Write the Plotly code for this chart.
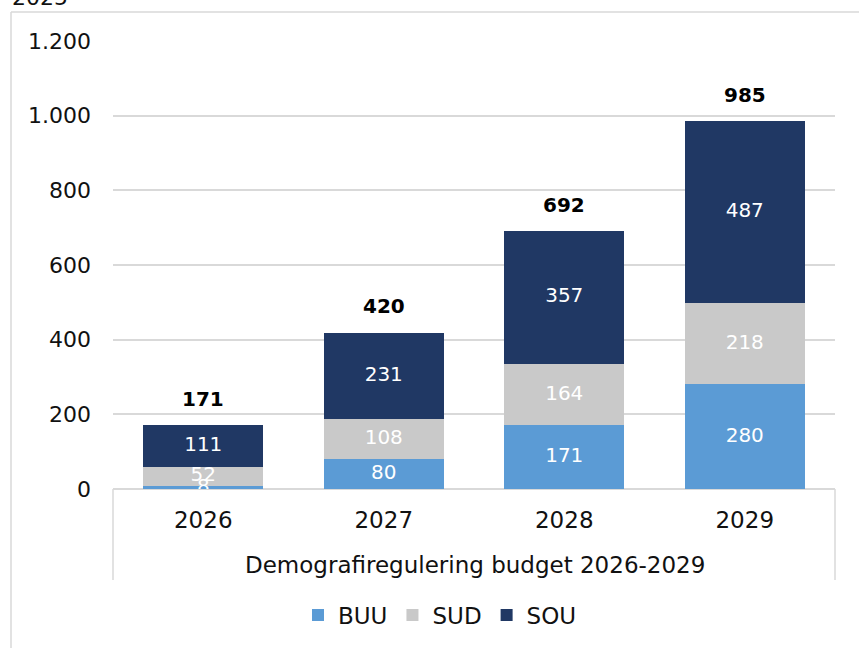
import plotly.graph_objects as go

years = ["2026", "2027", "2028", "2029"]
buu = [8, 80, 171, 280]
sud = [52, 108, 164, 218]
sou = [111, 231, 357, 487]
totals = [171, 420, 692, 985]
y_ticks = [0, 200, 400, 600, 800, 1000, 1200]

C_BUU = "#5B9BD5"
C_SUD = "#C9C9C9"
C_SOU = "#203864"
GRID = "#D9D9D9"
FONT = "DejaVu Sans"

W, H = 859, 648
L, R, T, B = 113, 24, 41, 159
pw, ph = W - L - R, H - T - B


def px_x(p):
    return (p - L) / pw


def px_y(p):
    return (H - B - p) / ph


fig = go.Figure()
for name, vals, col in [("BUU", buu, C_BUU), ("SUD", sud, C_SUD), ("SOU", sou, C_SOU)]:
    fig.add_trace(go.Bar(name=name, x=years, y=vals, marker=dict(color=col, line=dict(width=0)),
                         hoverinfo="skip"))

# segment labels (centered in each segment)
mid_buu = [b / 2 for b in buu]
mid_sud = [b + s / 2 for b, s in zip(buu, sud)]
mid_sou = [b + s + o / 2 for b, s, o in zip(buu, sud, sou)]
for mids, vals in [(mid_buu, buu), (mid_sud, sud), (mid_sou, sou)]:
    fig.add_trace(go.Scatter(x=years, y=mids, mode="text", text=[str(v) for v in vals],
                             textposition="middle center",
                             textfont=dict(family=FONT, size=20, color="white"),
                             showlegend=False, hoverinfo="skip"))

for i, t in enumerate(totals):
    fig.add_annotation(x=i, y=t, text="<b>%d</b>" % t, showarrow=False, yanchor="middle",
                       yshift=26, font=dict(family=FONT, size=20, color="black"))

# axis title
fig.add_annotation(xref="paper", yref="paper", x=px_x(475), y=px_y(565), text="Demografiregulering budget 2026-2029",
                   showarrow=False, xanchor="center", yanchor="middle",
                   font=dict(family=FONT, size=23, color="#111111"))

# "2025" text cut at the top
fig.add_annotation(xref="paper", yref="paper", x=px_x(10), y=px_y(12), text="2025",
                   showarrow=False, xanchor="left", yanchor="bottom",
                   font=dict(family=FONT, size=22, color="#111111"))

# category axis box lines
for xp in (0, 1):
    fig.add_shape(type="line", xref="paper", yref="paper", x0=xp, x1=xp, y0=0, y1=px_y(580),
                  line=dict(color=GRID, width=1.5))

# outer chart border
fig.add_shape(type="line", xref="paper", yref="paper", x0=px_x(11), x1=px_x(11), y0=px_y(12), y1=px_y(670),
              line=dict(color=GRID, width=1.5))
fig.add_shape(type="line", xref="paper", yref="paper", x0=px_x(11), x1=px_x(880), y0=px_y(12), y1=px_y(12),
              line=dict(color=GRID, width=1.5))

fig.update_layout(
    width=W, height=H,
    margin=dict(l=L, r=R, t=T, b=B, autoexpand=False),
    barmode="stack", bargap=0.335,
    plot_bgcolor="white", paper_bgcolor="white",
    separators=",.",
    showlegend=True,
    legend=dict(orientation="h", x=px_x(440), y=px_y(615), xanchor="center", yanchor="middle",
                font=dict(family=FONT, size=23, color="#111111"), traceorder="normal",
                itemwidth=30, tracegroupgap=0),
    xaxis=dict(type="category", range=[-0.5, 3.5], showgrid=False, showline=False, zeroline=False,
               ticks="", automargin=False,
               tickfont=dict(family=FONT, size=23, color="#111111"), ticklabelstandoff=15),
    yaxis=dict(range=[0, 1200], tickvals=y_ticks, tickformat=",d", showgrid=True, gridcolor=GRID,
               gridwidth=1.5, zeroline=True, zerolinecolor=GRID, zerolinewidth=1.5, showline=False,
               ticks="", ticklabelstandoff=21, automargin=False,
               tickfont=dict(family=FONT, size=22, color="#111111")),
)

fig.write_html("out.html", config={"displayModeBar": False},
               post_script="document.body.style.margin='0';")
